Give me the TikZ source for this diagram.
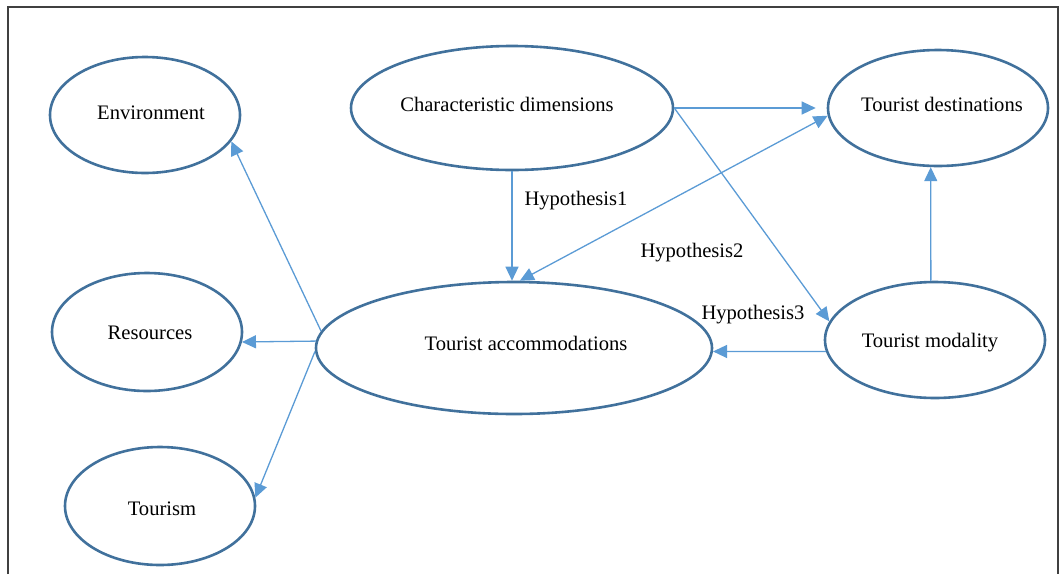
\documentclass[tikz,border=0pt]{standalone}
\usepackage{fontspec}
\setmainfont{Liberation Serif}
\usetikzlibrary{arrows.meta,shapes.geometric}
\definecolor{ellcol}{HTML}{41719C}
\definecolor{arrcol}{HTML}{5B9BD5}
\definecolor{framecol}{HTML}{404040}
\begin{document}
\begin{tikzpicture}[x=1pt,y=-1pt,
  oval/.style={ellipse, draw=ellcol, line width=2.6pt, inner sep=0pt},
  txt/.style={anchor=base, font=\fontsize{20.6}{24}\selectfont, inner sep=0pt},
  tip/.style={Triangle[length=14pt,width=13pt]},
  conn/.style={draw=arrcol, line width=1.3pt, -{Triangle[length=14pt,width=13pt]}},
  dconn/.style={draw=arrcol, line width=1.3pt, {Triangle[length=14pt,width=13pt]}-{Triangle[length=14pt,width=13pt]}}
]
\useasboundingbox (0,0) rectangle (1063,574);
\draw[framecol, line width=1.2pt] (8,574) -- (8,7) -- (1058,7) -- (1058,574);

% ellipses
\node[oval, minimum width=190pt, minimum height=116pt] (env) at (145,115) {};
\node[oval, minimum width=190pt, minimum height=118pt] (res) at (147,332) {};
\node[oval, minimum width=190pt, minimum height=118pt] (tou) at (160,506) {};
\node[oval, minimum width=322pt, minimum height=124pt] (cha) at (512,108) {};
\node[oval, minimum width=220pt, minimum height=116pt] (dst) at (938,108) {};
\node[oval, minimum width=220pt, minimum height=116pt] (mod) at (935,340) {};
\node[oval, minimum width=396pt, minimum height=132pt] (acc) at (514,348) {};

% texts
\node[txt] (envT) at (151,119) {Environment};
\node[txt] (resT) at (150,339) {Resources};
\node[txt] (touT) at (162,515) {Tourism};
\node[txt] (chaT) at (507,111) {Characteristic dimensions};
\node[txt] (dstT) at (942,111) {Tourist destinations};
\node[txt] (modT) at (930,347) {Tourist modality};
\node[txt] (accT) at (526,350) {Tourist accommodations};
\node[txt] (h1) at (576,205) {Hypothesis1};
\node[txt] (h2) at (692,257) {Hypothesis2};
\node[txt] (h3) at (753,319) {Hypothesis3};

% connectors
\draw[conn] (acc.175.3) -- (env.-17);
\draw[conn] (acc.178.3) -- (res.-6.6);
\draw[conn] (acc.181.5) -- (tou.5.4);
\draw[conn] (cha.south) -- (cha.south |- acc.north);
\draw[conn, shorten >=11pt] (cha.east) -- (dst.west);
\draw[conn] (cha.east) -- (mod.170.5);
\draw[dconn] (acc.85) -- (dst.184.6);
\draw[conn] (mod.94) -- (dst.263);
\draw[conn] (mod.186.3) -- (acc.-1.2);
\end{tikzpicture}
\end{document}
